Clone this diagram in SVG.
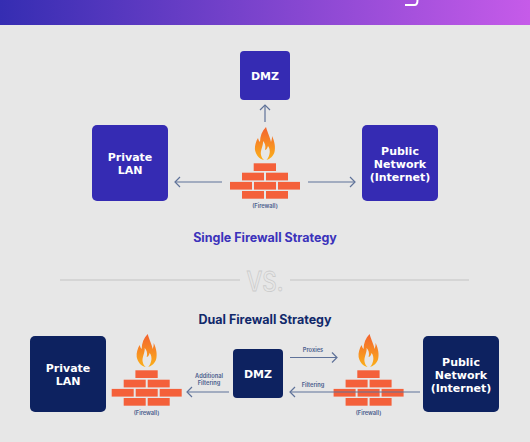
<svg xmlns="http://www.w3.org/2000/svg" xmlns:xlink="http://www.w3.org/1999/xlink" width="530" height="442" viewBox="0 0 530 442">
<style>
.t{font-family:"Inter","Liberation Sans",sans-serif;font-weight:700;text-anchor:middle}
.w{fill:#fff;font-family:"DejaVu Sans",sans-serif;font-size:11px}
.c{fill:#4a5c8c;font-size:5.700px;font-weight:600}
.l{fill:none;stroke:#5f7299;stroke-width:1.200}
.b{fill:#f4603a}
.h1{font-size:12.500px}
</style>
<defs>
<linearGradient id="hd" x1="0" x2="1" y1="0" y2="0"><stop offset="0" stop-color="#352db2"/><stop offset="1" stop-color="#c65be9"/></linearGradient>
<linearGradient id="fl" x1="0" x2="0" y1="0" y2="1"><stop offset="0" stop-color="#f3622f"/><stop offset="1" stop-color="#fbb019"/></linearGradient>
<marker id="a" viewBox="0 0 10 12" refX="9" refY="6" markerWidth="10" markerHeight="12" markerUnits="userSpaceOnUse" orient="auto"><path d="M4 1L9 6L4 11" fill="none" stroke="#5f7299" stroke-width="1.200"/></marker>
<g id="fw">
<path fill="url(#fl)" fill-rule="evenodd" d="M266 127C268 134 270 137 271 142C272 139 272 138 272 136C275 142 275.500 148 274.500 152C273.500 156 270 159 266.500 160C270 156 271 150 268 146C267 149 266 150 265 150C266 146 265 143 263 141C263.500 146 260 150 261 155C261.500 157 262.500 159 264 160C259 159 256 155 255 150C254.500 146 256 141 258 138C258.500 140 259 141 260 142C260 136 262 131 266 127Z"/>
<rect class="b" x="253.700" y="163.300" width="22.300" height="7.700"/>
<rect class="b" x="242" y="172.700" width="22" height="7.700"/><rect class="b" x="266" y="172.700" width="22" height="7.700"/>
<rect class="b" x="230" y="181.900" width="22" height="7.700"/><rect class="b" x="254" y="181.900" width="22" height="7.700"/><rect class="b" x="278" y="181.900" width="22" height="7.700"/>
<rect class="b" x="242" y="191" width="22" height="7.700"/><rect class="b" x="266" y="191" width="22" height="7.700"/>
</g>
</defs>
<rect width="530" height="442" fill="#e7e7e7"/>
<rect width="530" height="25" fill="url(#hd)"/>
<path d="M405 5h9.500c2 0 3-1.500 3-5" fill="none" stroke="#fff" stroke-width="2"/>

<g id="connectors">
<path class="l" marker-end="url(#a)" d="M265 122V105"/>
<path class="l" marker-end="url(#a)" d="M222 182H175"/>
<path class="l" marker-end="url(#a)" d="M308 182H355"/>
<path class="l" marker-end="url(#a)" d="M229 392H187"/>
<path class="l" marker-end="url(#a)" d="M290 357.500H337"/>
</g>

<g id="dmz-top"><rect x="240" y="51" width="50" height="49" rx="4" fill="#352bb3"/><text class="t w" x="265" y="80">DMZ</text></g>
<g id="private-top"><rect x="92" y="125" width="76" height="76" rx="5" fill="#352bb3"/><text class="t w" x="130" y="161">Private</text><text class="t w" x="130" y="174">LAN</text></g>
<g id="public-top"><rect x="362" y="125" width="76" height="76" rx="5" fill="#352bb3"/><text class="t w" x="400" y="155">Public</text><text class="t w" x="400" y="168">Network</text><text class="t w" x="400" y="181">(Internet)</text></g>
<g id="firewall-top"><use href="#fw"/><text class="t c" x="265" y="208">(Firewall)</text></g>
<text class="t h1" x="265" y="242" fill="#3b32bb">Single Firewall Strategy</text>

<g id="vs">
<path d="M60 280H240M290 280H469" stroke="#cfcfcf" stroke-width="1.300"/>
<text class="t" x="265" y="290.700" font-size="27" font-weight="500" textLength="37" lengthAdjust="spacingAndGlyphs" style="font-weight:500" fill="none" stroke="#cbcbcb" stroke-width=".8">VS.</text>
</g>
<text class="t h1" x="265" y="324" fill="#11296b">Dual Firewall Strategy</text>

<g id="private-bottom"><rect x="30" y="336" width="76" height="76" rx="5" fill="#0d2260"/><text class="t w" x="68" y="372">Private</text><text class="t w" x="68" y="385">LAN</text></g>
<g id="firewall-left"><use href="#fw" x="-118.300" y="207"/><text class="t c" x="146.500" y="415">(Firewall)</text></g>
<g id="dmz-bottom"><rect x="233" y="349" width="50" height="49" rx="4" fill="#0d2260"/><text class="t w" x="258" y="378">DMZ</text></g>
<g id="firewall-right"><use href="#fw" x="103.600" y="207"/><text class="t c" x="368.500" y="415">(Firewall)</text></g>
<g id="public-bottom"><rect x="423" y="336" width="76" height="76" rx="5" fill="#0d2260"/><text class="t w" x="461" y="366">Public</text><text class="t w" x="461" y="379">Network</text><text class="t w" x="461" y="392">(Internet)</text></g>

<g id="connector-filtering"><path class="l" marker-end="url(#a)" d="M420 392H290"/></g>
<text class="t c" x="209" y="378">Additional</text>
<text class="t c" x="209" y="385">Filtering</text>
<text class="t c" x="313" y="352">Proxies</text>
<text class="t c" x="313" y="387">Filtering</text>
</svg>
